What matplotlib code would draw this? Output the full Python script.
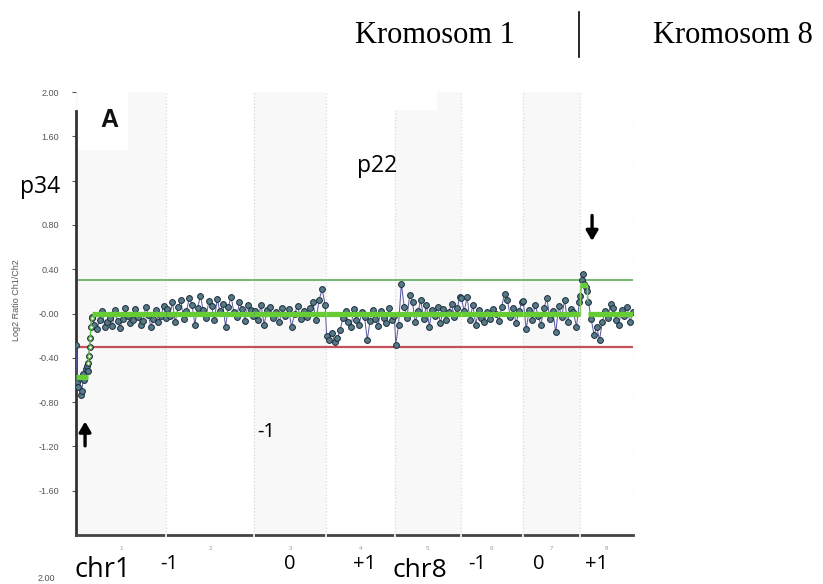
import numpy as np
import matplotlib
matplotlib.use("Agg")
import matplotlib.pyplot as plt
from matplotlib.lines import Line2D
from matplotlib.patches import Rectangle

# chromosomes on the x axis (length in Mb)
chrom_names = ["1", "2", "3", "4", "5", "6", "7", "8"]
chrom_len_mb = [249, 243, 198, 191, 181, 171, 159, 146]

# log2 ratio of the probes, per chromosome
chr1_del_vals = [-0.28, -0.62, -0.66, -0.58, -0.74, -0.70, -0.55, -0.60, -0.50, -0.47, -0.52]
chr1_step_vals = [-0.45, -0.38, -0.30, -0.22, -0.12, -0.04]
chr1_vals = [-0.03, -0.10, -0.14, -0.06, 0.02, -0.12, -0.08, -0.04, -0.11, 0.03,
             -0.07, -0.13, -0.05, 0.05, -0.02, -0.09, -0.06, 0.04, -0.03, -0.10,
             -0.07, 0.06, -0.01, -0.12, -0.05, 0.03, -0.08, -0.02, 0.07, -0.04]
chr2_vals = [0.04, -0.02, 0.10, -0.08, 0.06, 0.12, -0.05, 0.02, 0.14, 0.08,
             -0.10, 0.05, 0.16, 0.03, -0.04, 0.11, 0.07, -0.06, 0.13, 0.02,
             0.09, -0.12, 0.06, 0.15, 0.01, -0.03, 0.10, 0.04, -0.07, 0.08, 0.03, -0.02]
chr3_vals = [0.02, -0.06, 0.08, -0.10, 0.03, 0.06, -0.04, 0.01, -0.08, 0.05,
             -0.02, 0.04, -0.12, 0.00, 0.07, -0.05, 0.02, -0.03, 0.05, 0.10,
             -0.06, 0.12, 0.22, 0.08]
chr4_vals = [-0.20, -0.24, -0.18, -0.26, -0.22, -0.15, -0.04, 0.02, -0.08, -0.12,
             0.04, -0.06, -0.10, 0.01, -0.03, -0.24, -0.07, 0.03, -0.05, -0.11,
             0.02, -0.04, -0.09, 0.05, -0.06, -0.02]
chr5_vals = [-0.28, -0.10, 0.27, 0.06, -0.04, 0.17, 0.10, -0.08, 0.02, 0.12,
             -0.05, 0.08, -0.12, 0.03, -0.02, 0.06, -0.09, 0.04, -0.06, 0.01,
             0.09, -0.03, 0.05, 0.15]
chr6_vals = [0.14, 0.02, 0.15, -0.06, 0.08, -0.10, 0.03, -0.04, -0.08, 0.01,
             -0.05, 0.04, 0.00, -0.07, 0.06, 0.18, 0.12, -0.03, 0.05, -0.09, 0.02, 0.10]
chr7_vals = [0.11, -0.14, 0.03, -0.06, 0.08, -0.02, -0.10, 0.05, 0.14, -0.05,
             0.02, -0.17, 0.07, -0.03, 0.12, -0.08, 0.04, 0.01, -0.12, 0.10]
chr8_gain_vals = [0.16, 0.30, 0.36, 0.27, 0.24, 0.20]
chr8_vals = [0.10, -0.05, -0.19, -0.12, -0.24, -0.08, 0.02, -0.04, 0.09, 0.05,
             -0.06, -0.10, 0.03, -0.02, 0.06, -0.08, 0.01]

# probe runs: chromosome index, start Mb, end Mb, values
runs = [
    (0, 0, 33, chr1_del_vals),
    (0, 44, 249, chr1_vals),
    (1, 2, 241, chr2_vals),
    (2, 2, 196, chr3_vals),
    (3, 2, 189, chr4_vals),
    (4, 2, 179, chr5_vals),
    (5, 2, 169, chr6_vals),
    (6, 2, 157, chr7_vals),
    (7, 1, 19, chr8_gain_vals),
    (7, 23, 145, chr8_vals),
]
step_run = (0, 34, 43, chr1_step_vals)

# segmentation: chromosome index, start Mb, end Mb, value
seg_chrom = [0, 0, 1, 2, 3, 4, 5, 6, 7, 7]
seg_start = [0, 44, 0, 0, 0, 0, 0, 0, 0, 22]
seg_end = [33, 249, 243, 198, 191, 181, 171, 159, 19, 146]
seg_value = [-0.57, 0.0, 0.0, 0.0, 0.0, 0.0, 0.0, 0.0, 0.26, 0.0]

gain_thr = 0.30
loss_thr = -0.30

y_ticks = [2.0, 1.6, 1.2, 0.8, 0.4, 0.0, -0.4, -0.8, -1.2, -1.6]
y_tick_labels = ["2.00", "1.60", "1.20", "0.80", "0.40", "-0.00",
                 "-0.40", "-0.80", "-1.20", "-1.60"]

W, H = 823, 584


def fx(px):
    return px / W


def fy(py):
    return 1 - py / H


plt.rcParams["font.family"] = ["Liberation Sans", "DejaVu Sans"]

fig = plt.figure(figsize=(W / 100, H / 100), dpi=100)
ax = fig.add_axes([fx(76), (H - 535) / H, 557 / W, 443 / H])

offsets = np.concatenate([[0], np.cumsum(chrom_len_mb)])
total = offsets[-1]

# chromosome bands and dotted borders
for i in range(len(chrom_names)):
    if i % 2 == 0:
        ax.axvspan(offsets[i], offsets[i + 1], color="#f8f8f8", lw=0, zorder=0)
for b in offsets[1:]:
    ax.axvline(b, color="#dadada", ls=":", lw=0.9, zorder=1)

ax.axhline(gain_thr, color="#5aae5a", lw=1.2, zorder=2)
ax.axhline(loss_thr, color="#c4505c", lw=1.6, zorder=2)

x_all, y_all = [], []
for ci, s, e, vals in runs:
    pos = offsets[ci] + np.linspace(s, e, len(vals))
    x_all.extend(pos)
    y_all.extend(vals)
    if ci == 0 and s == 0:
        # transition probes go between deletion and normal part
        ci2, s2, e2, v2 = step_run
        p2 = offsets[ci2] + np.linspace(s2, e2, len(v2))
        x_all.extend(p2)
        y_all.extend(v2)

ax.plot(x_all, y_all, color="#55559e", lw=0.7, zorder=3)
ax.plot(x_all, y_all, ls="none", marker="o", ms=4.2, mfc="#557a88",
        mec="#1d2b3b", mew=0.7, zorder=4)

# step probes in green
ci2, s2, e2, v2 = step_run
p2 = offsets[ci2] + np.linspace(s2, e2, len(v2))
ax.plot(p2, v2, color="#5cbf3a", lw=1.0, marker="o", ms=2.6, mfc="white",
        mec="#4aa02c", mew=0.7, zorder=5)

# segmentation line
for ci, s, e, v in zip(seg_chrom, seg_start, seg_end, seg_value):
    ax.plot([offsets[ci] + s, offsets[ci] + e], [v, v], color="#66cc33",
            lw=3.8, solid_capstyle="butt", zorder=6)
ax.plot([offsets[7], offsets[7]], [0.0, 0.26], color="#7ccc55", lw=1.0, zorder=6)
ax.plot([offsets[7] + 19, offsets[7] + 19], [0.26, 0.12], color="#7ccc55", lw=1.0, zorder=6)

# arrows
ax.annotate("", xy=(25, -0.95), xytext=(25, -1.22),
            arrowprops=dict(arrowstyle="-|>,head_width=0.35,head_length=0.6",
                            color="black", lw=2.4), zorder=7)
ax.annotate("", xy=(offsets[7] + 33, 0.63), xytext=(offsets[7] + 33, 0.91),
            arrowprops=dict(arrowstyle="-|>,head_width=0.35,head_length=0.6",
                            color="black", lw=2.4), zorder=7)

ax.set_xlim(0, total)
ax.set_ylim(-2, 2)
ax.set_yticks(y_ticks)
ax.set_yticklabels(y_tick_labels)
centers = (offsets[:-1] + offsets[1:]) / 2
ax.set_xticks(centers)
ax.set_xticklabels(chrom_names)
ax.tick_params(axis="y", direction="out", length=3, width=0.8, color="#555555",
               labelsize=6.5, labelcolor="#555555", pad=9)
ax.tick_params(axis="x", length=0, labelsize=4.5, labelcolor="#999999", pad=8)

for side in ["top", "right"]:
    ax.spines[side].set_visible(False)
ax.spines["left"].set_color("#333333")
ax.spines["left"].set_linewidth(2)
ax.spines["left"].set_bounds(-2, 1.83)
ax.spines["bottom"].set_color("#444444")
ax.spines["bottom"].set_linewidth(2)
ax.vlines(offsets[1:-1], -2.03, -1.97, color="white", lw=1.2, clip_on=False, zorder=5)

# white patch behind the panel letter
fig.add_artist(Rectangle((fx(78), fy(150)), 50 / W, 62 / H, transform=fig.transFigure,
                         facecolor="white", edgecolor="none", zorder=3))
fig.add_artist(Rectangle((fx(382), fy(110)), 55 / W, 22 / H, transform=fig.transFigure,
                         facecolor="white", edgecolor="none", zorder=3))

fig.text(fx(17), fy(300), "Log2 Ratio Ch1/Ch2", rotation=90, ha="center", va="center",
         fontsize=6.5, color="#555555")
fig.text(fx(100), fy(127), "A", fontsize=18, fontweight="bold", color="#111111",
         va="baseline", zorder=4)

serif = ["Liberation Serif", "DejaVu Serif"]
fig.text(fx(355), fy(43), "Kromosom 1", family=serif, fontsize=22, va="baseline")
fig.text(fx(653), fy(43), "Kromosom 8", family=serif, fontsize=22, va="baseline")
fig.add_artist(Line2D([fx(579), fx(579)], [fy(12), fy(57)], color="black", lw=1.2))

sans = ["Open Sans", "DejaVu Sans"]
fig.text(fx(20), fy(193), "p34", family=sans, fontsize=16.5, va="baseline",
         bbox=dict(facecolor="white", edgecolor="none", pad=0.5), zorder=5)
fig.text(fx(357), fy(172), "p22", family=sans, fontsize=16.5, va="baseline")
fig.text(fx(257), fy(437), "-1", family=sans, fontsize=14.5, va="baseline")

fig.text(fx(75), fy(577), "chr1", family=sans, fontsize=19.5, va="baseline")
fig.text(fx(392), fy(577), "chr8", family=sans, fontsize=19, va="baseline")
bottom_labels = ["-1", "0", "+1", "-1", "0", "+1"]
bottom_x = [160, 284, 353, 468, 533, 585]
for lab, px in zip(bottom_labels, bottom_x):
    fig.text(fx(px), fy(569), lab, family=sans, fontsize=14.5, va="baseline")

fig.text(fx(38), fy(581), "2.00", fontsize=6.5, color="#555555", va="baseline")

fig.savefig("out.png", dpi=100)
